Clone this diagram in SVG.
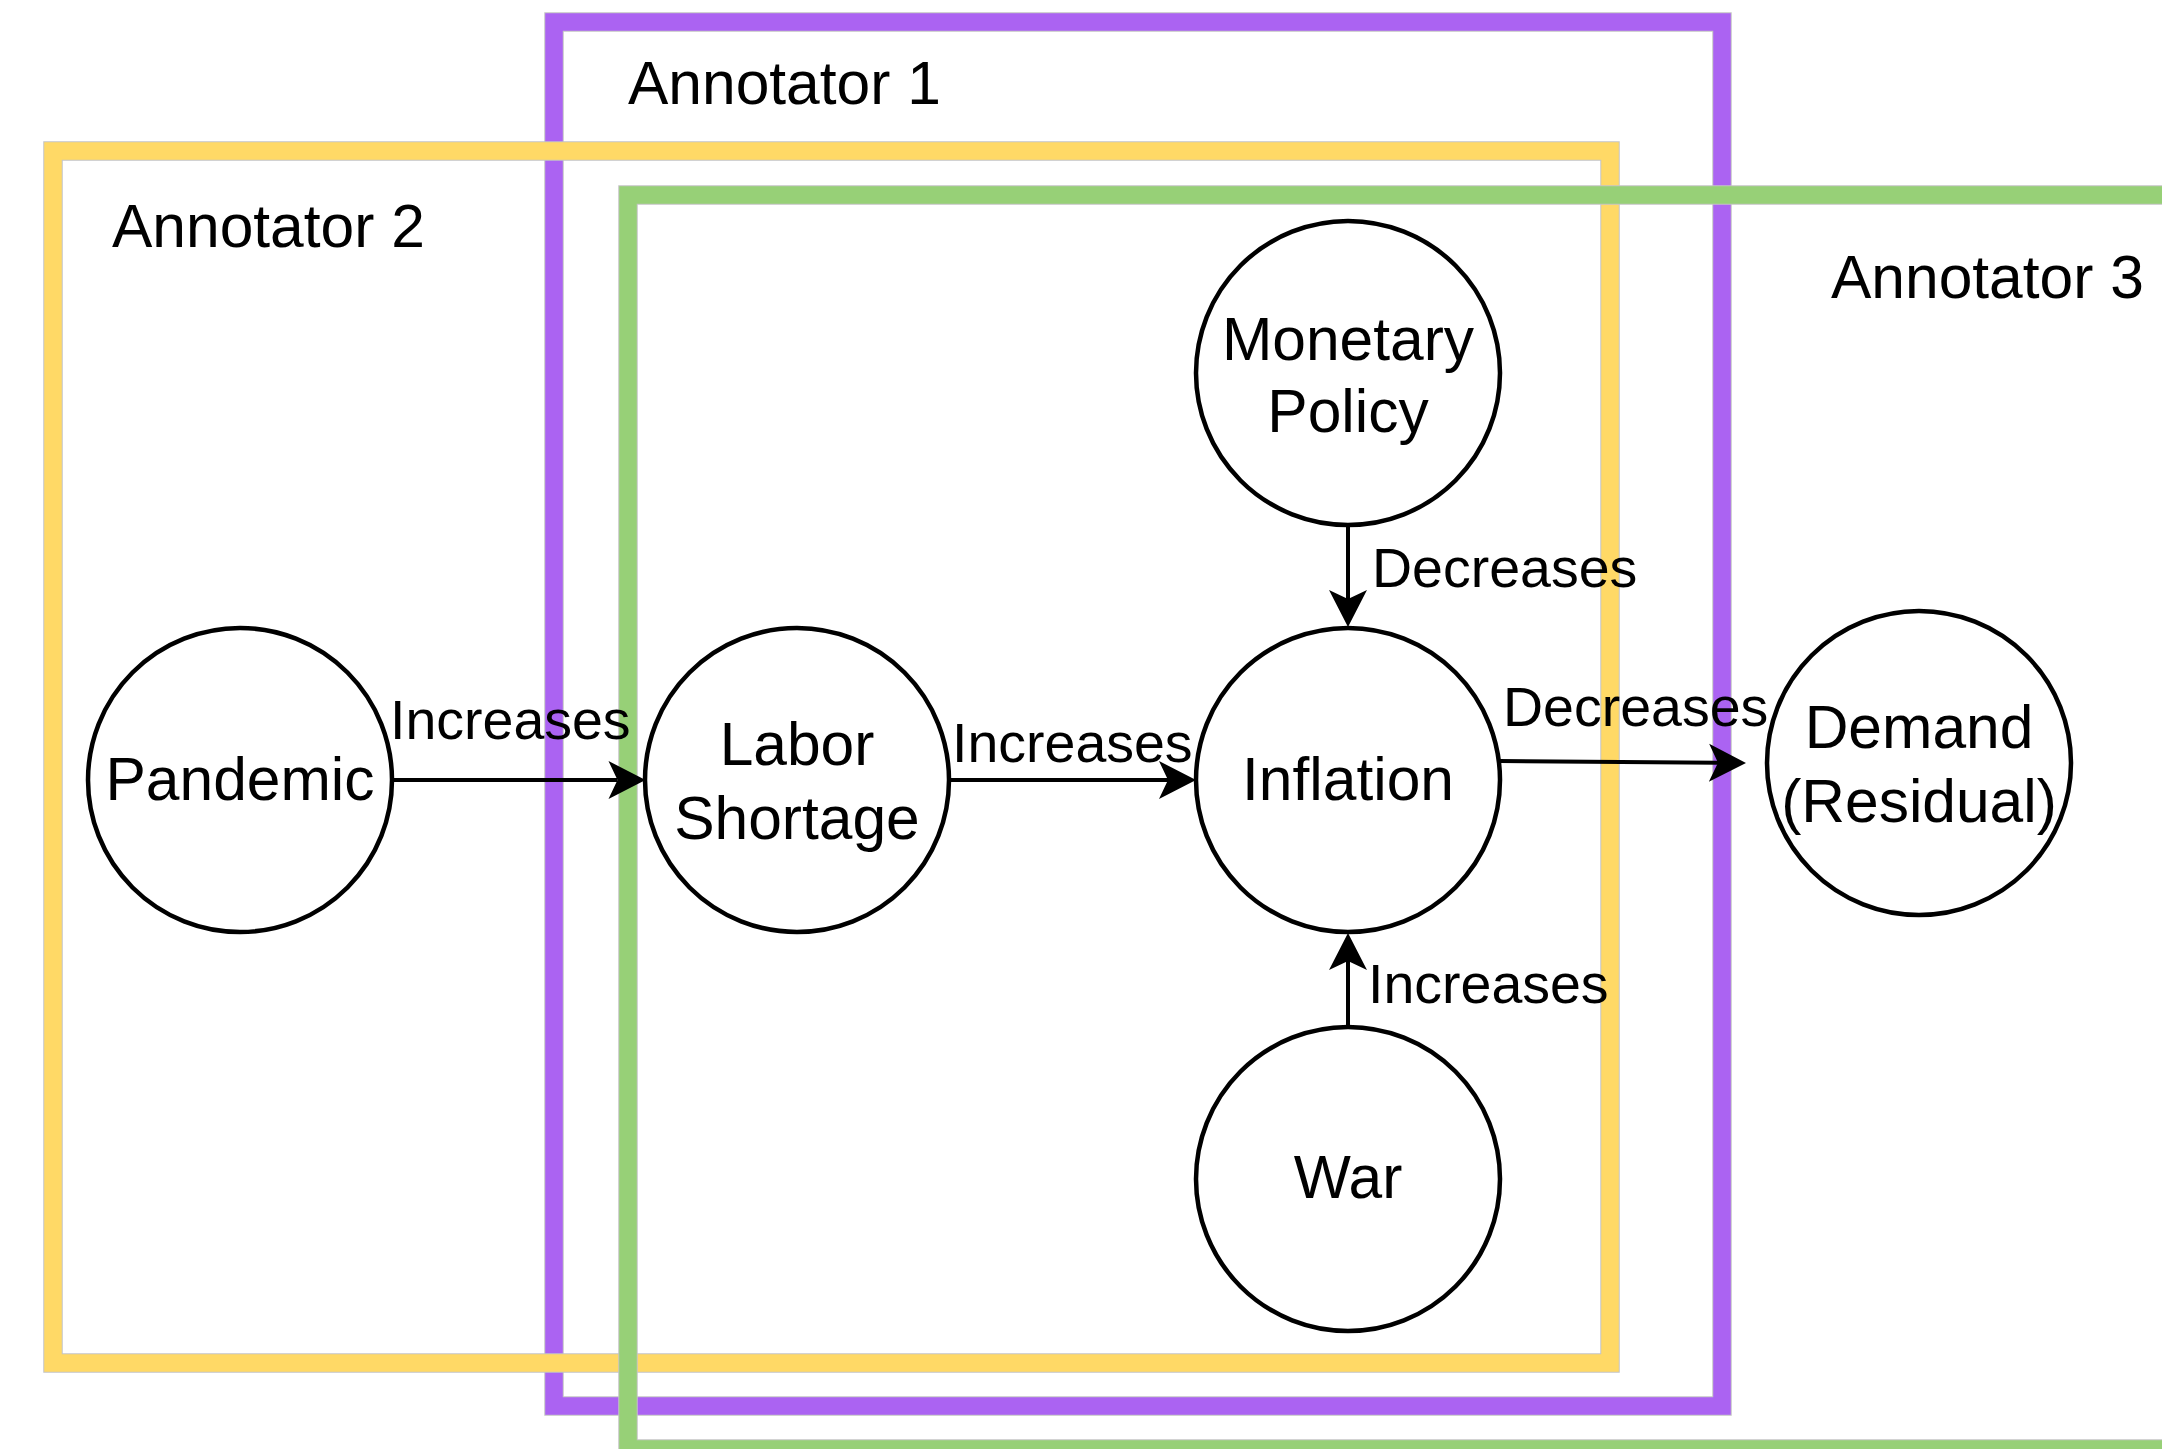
<svg xmlns="http://www.w3.org/2000/svg" width="2162" height="1449" viewBox="0 0 2162 1449">
  <style>
    text { font-family: "Liberation Sans", Arial, Helvetica, sans-serif; fill: #000; }
    .title { font-size: 60.5px; }
    .node-label { font-size: 60.5px; text-anchor: middle; }
    .edge-label { font-size: 55.5px; }
    .node { fill: #fff; stroke: #000; stroke-width: 4.5; }
    .frame-edge { fill: none; stroke: #c4c4c4; stroke-width: 19.5; }
    .frame { fill: none; stroke-width: 17.5; }
    .edge { fill: none; stroke: #000; stroke-width: 4; }
  </style>
  <defs>
    <marker id="arrow" viewBox="-38 -20 40 40" refX="-28" refY="0" markerWidth="40" markerHeight="40" markerUnits="userSpaceOnUse" orient="auto">
      <path d="M0,0 L-37,-19 L-28,0 L-37,19 Z" fill="#000"/>
    </marker>
  </defs>

  <rect width="2162" height="1449" fill="#fff"/>

  <!-- annotator frames -->
  <g id="annotator-1">
    <rect class="frame-edge" x="554" y="22" width="1168" height="1384"/>
    <rect class="frame" x="554" y="22" width="1168" height="1384" stroke="#AB63F2"/>
    <text class="title" x="628" y="104">Annotator 1</text>
  </g>
  <g id="annotator-2">
    <rect class="frame-edge" x="53" y="151" width="1557" height="1212"/>
    <rect class="frame" x="53" y="151" width="1557" height="1212" stroke="#FFD966"/>
    <text class="title" x="112" y="247">Annotator 2</text>
  </g>
  <g id="annotator-3">
    <rect class="frame-edge" x="628" y="195" width="1700" height="1254"/>
    <rect class="frame" x="628" y="195" width="1700" height="1254" stroke="#97D077"/>
    <text class="title" x="1831" y="298">Annotator 3</text>
  </g>

  <!-- connectors -->
  <g id="connectors">
    <line class="edge" x1="393" y1="780" x2="617.5" y2="780" marker-end="url(#arrow)"/>
    <text class="edge-label" x="390" y="739">Increases</text>

    <line class="edge" x1="949" y1="780" x2="1168" y2="780" marker-end="url(#arrow)"/>
    <text class="edge-label" x="952" y="762">Increases</text>

    <line class="edge" x1="1500" y1="761" x2="1718" y2="762.8" marker-end="url(#arrow)"/>
    <text class="edge-label" x="1503" y="726">Decreases</text>

    <line class="edge" x1="1348" y1="525" x2="1348" y2="599" marker-end="url(#arrow)"/>
    <text class="edge-label" x="1372" y="587">Decreases</text>

    <line class="edge" x1="1348" y1="1027" x2="1348" y2="961" marker-end="url(#arrow)"/>
    <text class="edge-label" x="1368" y="1003">Increases</text>
  </g>

  <!-- nodes -->
  <g id="pandemic">
    <circle class="node" cx="240" cy="780" r="152"/>
    <text class="node-label" x="240" y="800">Pandemic</text>
  </g>
  <g id="labor-shortage">
    <circle class="node" cx="797" cy="780" r="152"/>
    <text class="node-label" x="797" y="765">Labor</text>
    <text class="node-label" x="797" y="839">Shortage</text>
  </g>
  <g id="inflation">
    <circle class="node" cx="1348" cy="780" r="152"/>
    <text class="node-label" x="1348" y="800">Inflation</text>
  </g>
  <g id="monetary-policy">
    <circle class="node" cx="1348" cy="373" r="152"/>
    <text class="node-label" x="1348" y="360">Monetary</text>
    <text class="node-label" x="1348" y="432">Policy</text>
  </g>
  <g id="war">
    <circle class="node" cx="1348" cy="1179" r="152"/>
    <text class="node-label" x="1348" y="1198">War</text>
  </g>
  <g id="demand-residual">
    <circle class="node" cx="1919" cy="763" r="152"/>
    <text class="node-label" x="1919" y="748">Demand</text>
    <text class="node-label" x="1919" y="822">(Residual)</text>
  </g>
</svg>
